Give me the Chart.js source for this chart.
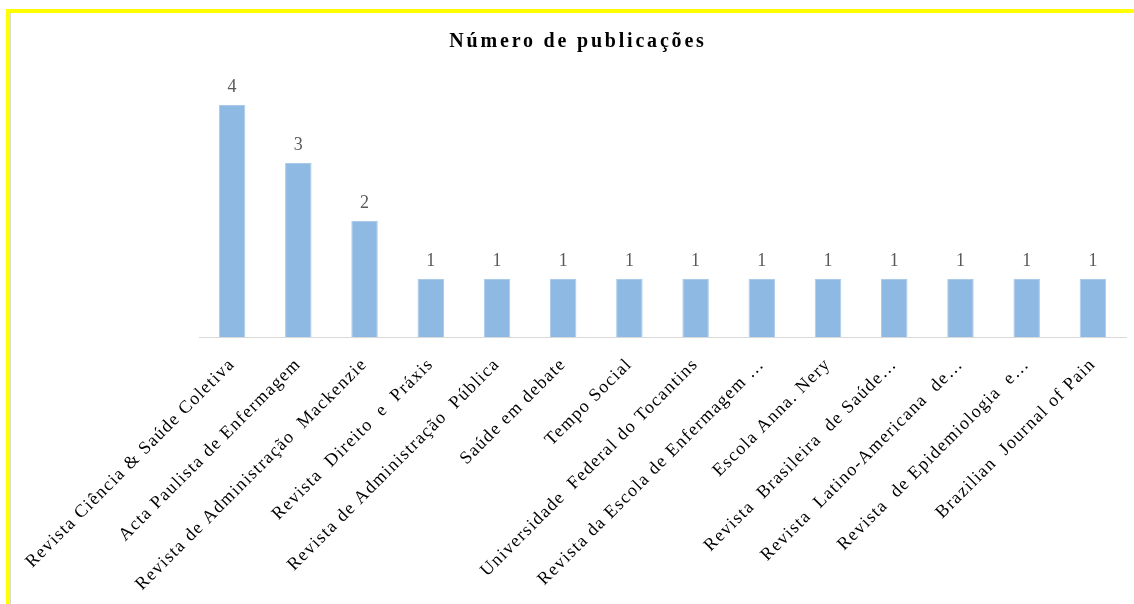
<!DOCTYPE html>
<html lang="pt">
<head>
    <meta charset="UTF-8">
    <title>Número de publicações</title>
    <script src="https://cdn.jsdelivr.net/npm/chart.js"></script>
    <style>
        body { margin: 0; background: #fff; }
        .frame {
            position: absolute; left: 6px; top: 9px; width: 1128px; height: 595px;
            border-left: 4px solid #ffff00; border-top: 4px solid #ffff00;
            box-sizing: border-box;
        }
        .edge { position: absolute; left: 0; top: 0; width: 1px; height: 100%; background: #d9d9d9; }
        .box { position: absolute; left: 1px; top: 0; width: 1123px; height: 591px; }
    </style>
</head>
<body>
    <div class="frame">
        <div class="edge"></div>
        <div class="box"><canvas id="chart"></canvas></div>
    </div>

    <script>
        // revistas e numero de publicacoes
        const revistas = [
            'Revista Ciência & Saúde Coletiva',
            'Acta Paulista de Enfermagem',
            'Revista de Administração  Mackenzie',
            'Revista  Direito  e  Práxis',
            'Revista de Administração  Pública',
            'Saúde em debate',
            'Tempo Social',
            'Universidade  Federal do Tocantins',
            'Revista da Escola de Enfermagem …',
            'Escola Anna. Nery',
            'Revista  Brasileira  de Saúde…',
            'Revista  Latino-Americana  de…',
            'Revista  de Epidemiologia  e…',
            'Brazilian  Journal of Pain'
        ];
        const publicacoes = [4, 3, 2, 1, 1, 1, 1, 1, 1, 1, 1, 1, 1, 1];
        const titulo = 'Número de publicações';

        const serif = 'Liberation Serif, Times New Roman, serif';

        // o texto do original e mais espacado, entao abre um pouco as letras
        const espacamento = {
            id: 'espacamento',
            beforeLayout(chart) { chart.ctx.letterSpacing = '1.3px'; },
            beforeDraw(chart) { chart.ctx.letterSpacing = '1.3px'; }
        };

        // titulo e valores em cima das barras
        const textos = {
            id: 'textos',
            afterDatasetsDraw(chart) {
                const ctx = chart.ctx;
                const meta = chart.getDatasetMeta(0);
                ctx.save();
                ctx.letterSpacing = '0px';
                ctx.font = '18px ' + serif;
                ctx.fillStyle = '#595959';
                ctx.textAlign = 'center';
                ctx.textBaseline = 'alphabetic';
                meta.data.forEach((bar, i) => {
                    ctx.fillText(publicacoes[i], bar.x, bar.y - 13);
                });

                ctx.letterSpacing = '2.8px';
                ctx.font = 'bold 20px ' + serif;
                ctx.fillStyle = '#000';
                ctx.fillText(titulo, 567, 34);
                ctx.restore();
            }
        };

        new Chart(document.getElementById('chart'), {
            type: 'bar',
            data: {
                labels: revistas,
                datasets: [{
                    data: publicacoes,
                    backgroundColor: '#8db9e2',
                    borderColor: '#a9cbea',
                    borderWidth: 1,
                    barPercentage: 0.4,
                    categoryPercentage: 1
                }]
            },
            options: {
                responsive: true,
                maintainAspectRatio: false,
                animation: false,
                layout: { padding: { left: 0, right: 8, top: 63, bottom: 0 } },
                plugins: {
                    legend: { display: false },
                    tooltip: { enabled: false },
                    title: { display: false }
                },
                scales: {
                    x: {
                        grid: { display: false },
                        border: { display: true, color: '#d9d9d9', width: 1 },
                        ticks: {
                            autoSkip: false,
                            minRotation: 45,
                            maxRotation: 45,
                            padding: 9,
                            color: '#000',
                            font: { family: serif, size: 18 }
                        },
                        afterFit(scale) { scale.height = 267; }
                    },
                    y: {
                        min: 0,
                        max: 4.5,
                        grid: { display: false },
                        border: { display: false },
                        ticks: { display: false },
                        afterFit(scale) { scale.width = 188; }
                    }
                }
            },
            plugins: [espacamento, textos]
        });
    </script>
</body>
</html>
